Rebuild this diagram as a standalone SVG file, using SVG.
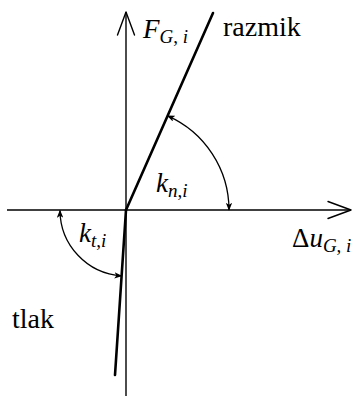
<svg xmlns="http://www.w3.org/2000/svg" width="358" height="396" viewBox="0 0 358 396">
<style>
.axis{stroke:#000;stroke-width:1.4;fill:none}
.head{stroke:#000;stroke-width:1.4;fill:none;stroke-linecap:round;stroke-linejoin:round}
.thick{stroke:#000;stroke-width:2.6;fill:none;stroke-linecap:round}
.arc{stroke:#000;stroke-width:1.3;fill:none}
</style>
<defs>
<marker id="ah" viewBox="0 0 10 8" refX="9" refY="4" markerWidth="8" markerHeight="6.4" markerUnits="userSpaceOnUse" orient="auto-start-reverse">
<path d="M0,0 L10,4 L0,8 L2.5,4 Z" fill="#000"/>
</marker>
</defs>
<g id="connectors">
<g id="x-axis">
<line class="axis" x1="7" y1="210" x2="351" y2="210"/>
<polyline class="head" points="328,201.5 351,210 328,218.5"/>
</g>
<g id="y-axis">
<line class="axis" x1="126" y1="396" x2="126" y2="12"/>
<polyline class="head" points="117.5,35 126,12 134.5,35"/>
</g>
<line id="razmik-line" class="thick" x1="126" y1="210" x2="213" y2="13"/>
<line id="tlak-line" class="thick" x1="126" y1="210" x2="115" y2="375"/>
<path id="arc-kn" class="arc" d="M167.6,115.8 A103,103 0 0 1 229,210" marker-start="url(#ah)" marker-end="url(#ah)"/>
<path id="arc-kt" class="arc" d="M60,210.5 A66,66 0 0 0 121.6,275.9" marker-start="url(#ah)" marker-end="url(#ah)"/>
</g>
<g id="labels" font-family="'Liberation Serif', 'DejaVu Serif', serif" fill="#000">
<text id="label-F" font-style="italic" x="143" y="38" font-size="27">F<tspan font-size="19" dy="5">G</tspan><tspan font-style="normal" font-size="19">,</tspan><tspan font-size="19"> i</tspan></text>
<text id="label-razmik" x="223" y="36" font-size="28">razmik</text>
<text id="label-kn" font-style="italic" x="156" y="192" font-size="27">k<tspan font-size="19" dy="5">n</tspan><tspan font-style="normal" font-size="19">,</tspan><tspan font-size="19">i</tspan></text>
<text id="label-kt" font-style="italic" x="79" y="242" font-size="27">k<tspan font-size="19" dy="5">t</tspan><tspan font-style="normal" font-size="19">,</tspan><tspan font-size="19">i</tspan></text>
<text id="label-du" font-style="italic" x="292" y="247" font-size="27"><tspan font-style="normal">Δ</tspan>u<tspan font-size="19" dy="5">G</tspan><tspan font-style="normal" font-size="19">,</tspan><tspan font-size="19"> i</tspan></text>
<text id="label-tlak" x="12" y="328" font-size="28">tlak</text>
</g>
</svg>
